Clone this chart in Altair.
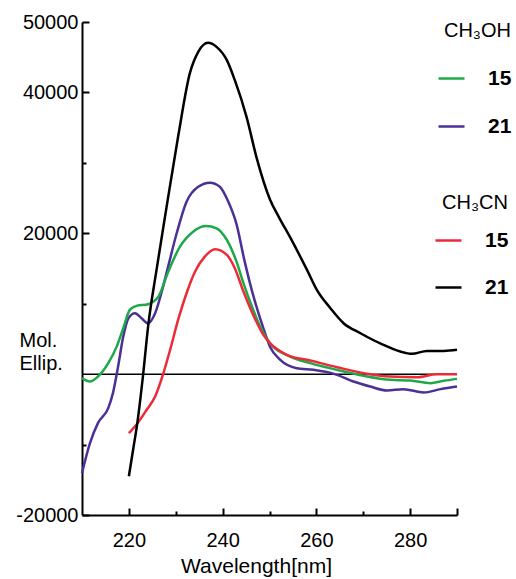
import altair as alt
import pandas as pd

# ---- data ----
wl_meoh_15 = [210, 211.7, 213.4, 215.6, 217.4, 218.8, 220.2, 221.6, 224.1, 226.3, 228.4, 230.9,
              233.7, 236.5, 238.7, 240.9, 243, 244.4, 246.6, 248, 250.1, 254.4, 258.7, 264.4,
              270.1, 275.8, 280, 284.3, 287.2, 290]
el_meoh_15 = [-570, -1050, -340, 1560, 3910, 6520, 9120, 9690, 9930, 11010, 14550, 18100,
              20230, 21030, 20700, 19050, 15900, 13000, 9000, 6750, 4400, 2500, 1560, 610,
              -240, -810, -900, -1280, -950, -670]

wl_meoh_21 = [210, 211.7, 213.4, 215.6, 216.6, 217.7, 218.8, 219.9, 221.3, 222.7, 224.1, 225.6,
              227.3, 228.2, 230.2, 232.3, 234.8, 237.3, 239.4, 241.2, 243, 244.6, 246.6, 248.7,
              250.1, 252.3, 255.8, 259.4, 264.4, 267.9, 271.5, 275.1, 278.6, 282.9, 286.5, 290]
el_meoh_21 = [-14040, -9790, -6950, -4820, -2700, 1080, 5330, 7940, 8650, 7940, 7230, 8650,
              12430, 14800, 20000, 24480, 26610, 27180, 26610, 24500, 21200, 16300, 11000, 6500,
              3900, 2030, 850, 610, -100, -1050, -1760, -2320, -2130, -2610, -2130, -1760]

wl_mecn_15 = [220, 221.6, 223.8, 225.6, 227.3, 228.8, 230.5, 232.3, 234.1, 236.2, 238.4, 240.9,
              242.6, 244.4, 246.6, 248.7, 250.1, 253.7, 258.7, 264.4, 270.1, 275.8, 281.5, 285.7, 290]
el_mecn_15 = [-8370, -7190, -5060, -3180, 0, 3450, 7700, 11490, 14550, 16680, 17730, 16920,
              15030, 11800, 8300, 5570, 4400, 2740, 1930, 990, 140, -340, -430, 0, 0]

wl_mecn_21 = [220, 220.9, 221.8, 223.05, 224.1, 225.9, 228.05, 230.5, 233.0, 234.8, 236.9, 238.7,
              240.9, 242.6, 245.1, 247.3, 250.1, 252.0, 254.5, 258.0, 260.1, 263, 265.8, 269.4,
              274.3, 277.9, 280.4, 283.6, 287.2, 290]
el_mecn_21 = [-14500, -10740, -6950, 0, 6750, 14800, 23770, 33700, 42700, 45760, 47040, 46470,
              44580, 41740, 36540, 30600, 24800, 22300, 19300, 14800, 11960, 9360, 7230, 5810,
              4160, 3210, 2880, 3300, 3300, 3450]

series_names = ["15", "21"]
x_labels = [220, 240, 260, 280]
x_major_ticks = [220, 240, 260, 280, 290]
x_minor_ticks = [230, 250, 270]
y_labels = [50000, 40000, 20000, -20000]
y_minor_ticks = [30000, 10000, -10000]
zero_x = [210, 290]
zero_y = [0, 0]

GREEN, PURPLE, RED, BLACK = "#1ea84a", "#4b3196", "#ec2b37", "#000000"
FONT = "Liberation Sans"
W, H = 375, 493


def frame(x, y, name):
    return pd.DataFrame({"wavelength": x, "ellip": y, "compound": name})


meoh = pd.concat([frame(wl_meoh_21, el_meoh_21, "21"), frame(wl_meoh_15, el_meoh_15, "15")])
mecn = pd.concat([frame(wl_mecn_15, el_mecn_15, "15"), frame(wl_mecn_21, el_mecn_21, "21")])
zero = pd.DataFrame({"wavelength": zero_x, "ellip": zero_y})

xscale = alt.Scale(domain=[210, 290], nice=False, zero=False)
yscale = alt.Scale(domain=[-20000, 50000], nice=False, zero=False)


def tick_axis(orient, offset, values, size):
    return alt.Axis(orient=orient, offset=offset, values=values, tickSize=size, tickWidth=2,
                    tickColor="black", labels=False, domain=False, grid=False, title=None)


zero_layer = alt.Chart(zero).mark_line(color="black", strokeWidth=1.5).encode(
    x=alt.X("wavelength:Q", scale=xscale, axis=tick_axis("top", -H, x_minor_ticks, 4)),
    y=alt.Y("ellip:Q", scale=yscale, axis=tick_axis("right", -W, y_minor_ticks, 4)),
)

bottom_axis = alt.Axis(orient="bottom", values=x_labels, ticks=False, tickSize=0, domain=True,
                       domainColor="black", domainWidth=2, labelFont=FONT, labelFontSize=20,
                       labelColor="black", labelPadding=15, labelOverlap=False, grid=False,
                       title="Wavelength[nm]", titleFont=FONT, titleFontSize=21,
                       titleFontWeight="normal", titleColor="black", titleX=174, titleY=40,
                       titleBaseline="top", titleAlign="center")
left_axis = alt.Axis(orient="left", values=y_labels, ticks=False, tickSize=0, domain=True,
                     domainColor="black", domainWidth=2, labelFont=FONT, labelFontSize=20,
                     labelColor="black", labelPadding=4, labelOverlap=False, grid=False,
                     labelExpr="'' + datum.value",
                     title=["Mol.", "Ellip."], titleFont=FONT, titleFontSize=20,
                     titleFontWeight="normal", titleColor="black", titleAngle=0,
                     titleAlign="left", titleBaseline="top", titleX=-63, titleY=308,
                     titleLineHeight=23)


def legend(title, lx, ly, tpad, rpad):
    return alt.Legend(title=title, orient="none", legendX=lx, legendY=ly, padding=0,
                      symbolType="stroke", symbolSize=676, symbolStrokeWidth=2.5,
                      labelFont=FONT, labelFontSize=21, labelFontWeight="bold",
                      labelColor="black", labelOffset=22, rowPadding=rpad,
                      titleFont=FONT, titleFontSize=20, titleFontWeight="normal",
                      titleColor="black", titlePadding=tpad, titleAnchor="end")


meoh_layer = alt.Chart(meoh).mark_line(strokeWidth=2.5, interpolate="monotone").encode(
    x=alt.X("wavelength:Q", scale=xscale, axis=bottom_axis),
    y=alt.Y("ellip:Q", scale=yscale, axis=left_axis),
    color=alt.Color("compound:N", scale=alt.Scale(domain=series_names, range=[GREEN, PURPLE]),
                    legend=legend("CH\u2083OH", 355, -1, 23, 23)),
)

mecn_layer = alt.Chart(mecn).mark_line(strokeWidth=2.5, interpolate="monotone").encode(
    x=alt.X("wavelength:Q", scale=xscale, axis=tick_axis("top", -H, x_major_ticks, 7)),
    y=alt.Y("ellip:Q", scale=yscale, axis=tick_axis("right", -W, y_labels, 7)),
    color=alt.Color("compound:N", scale=alt.Scale(domain=series_names, range=[RED, BLACK]),
                    legend=legend("CH\u2083CN", 352, 171, 13, 22)),
)

chart = alt.layer(zero_layer, meoh_layer, mecn_layer).resolve_scale(
    color="independent"
).resolve_axis(
    x="independent", y="independent"
).properties(
    width=W, height=H,
    padding={"left": 82, "top": 22, "right": 59, "bottom": 64},
    autosize=alt.AutoSizeParams(type="none"),
    background="white",
).configure_view(stroke=None)

chart.save("out.html", embed_options={"renderer": "svg", "actions": False})
